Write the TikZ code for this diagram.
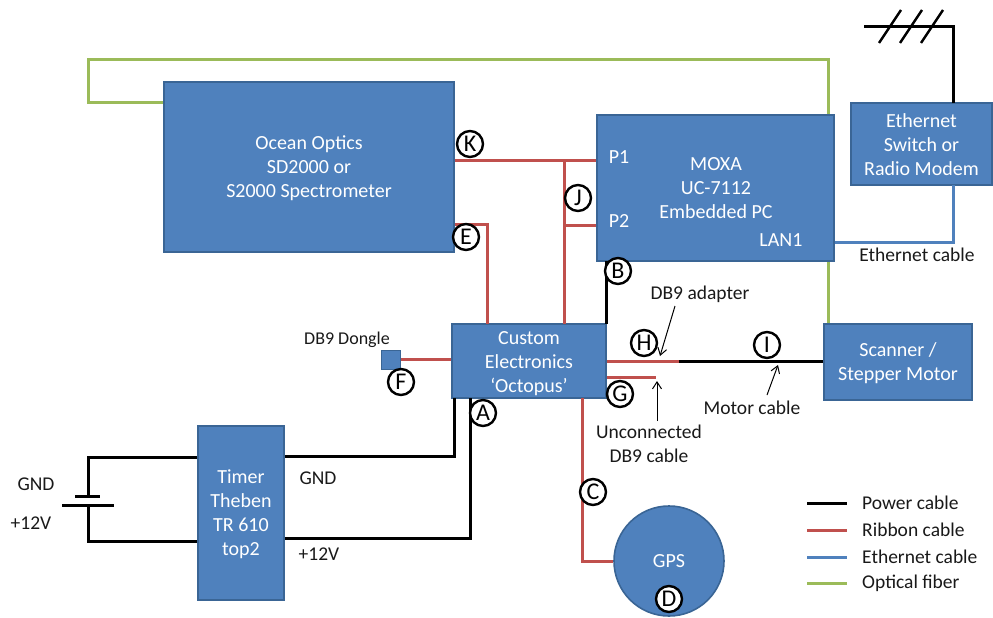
\documentclass[tikz,border=0pt]{standalone}
\usepackage{fontspec}
\setmainfont{Carlito}
\usetikzlibrary{arrows.meta,calc}
\definecolor{boxblue}{HTML}{4F81BD}
\definecolor{boxedge}{HTML}{3A6595}
\definecolor{ribbon}{HTML}{C0504D}
\definecolor{ethcable}{HTML}{4F81BD}
\definecolor{fiber}{HTML}{9BBB59}
\tikzset{
  blockbox/.style={draw=boxedge,line width=1.6pt,fill=boxblue,text=white,align=center,font=\fontsize{20}{24}\selectfont,inner sep=0pt},
  boxtext/.style={text=white,align=center,font=\fontsize{20}{24}\selectfont,inner sep=0pt},
  marker/.style={circle,draw=black,line width=2.4pt,fill=white,minimum size=26pt,inner sep=0pt,font=\fontsize{24}{24}\selectfont},
  lbl/.style={font=\fontsize{19.5}{24}\selectfont,align=center,inner sep=0pt,text=black!90},
  powercable/.style={black,line width=3pt},
  ribboncable/.style={ribbon,line width=3pt},
  ethernetcable/.style={ethcable,line width=3pt},
  fibercable/.style={fiber,line width=3pt},
  pointer/.style={-{Straight Barb[length=7pt,width=9pt]},black,line width=1pt},
}
\begin{document}
\begin{tikzpicture}[x=1pt,y=-1pt]
\useasboundingbox (0,0) rectangle (993,618);
% free end points
\coordinate (fa) at (88,60); \coordinate (fb) at (828,60); \coordinate (fc) at (88,102);
\coordinate (hl) at (864,27); \coordinate (hc) at (953,27);
\coordinate (batTop) at (88,457); \coordinate (batBot) at (88,541);
\coordinate (batN) at (88,496); \coordinate (batP) at (88,505);
\coordinate (jtop) at (564,160); \coordinate (jmid) at (564,225);
\coordinate (adapter) at (679,361);
\coordinate (unconn) at (656,377);
\coordinate (tipH) at (660,356); \coordinate (tailH) at (675,306);
\coordinate (tipG) at (657,381); \coordinate (tailG) at (657,421);
\coordinate (tipI) at (778,365); \coordinate (tailI) at (767,395);
% fibre and other cables under boxes
\draw[fibercable] (164,102) -- (fc) -- (fa) -- (fb) -- (828,324);
\node[blockbox,minimum width=290pt,minimum height=170pt] (ocean) at (309,167) {};
\node[boxtext] (oceant) at (309,168) {Ocean Optics\\SD2000 or\\S2000 Spectrometer};
\node[blockbox,minimum width=237pt,minimum height=146pt] (moxa) at (715.5,188) {};
\node[boxtext] (moxat) at (716,188) {MOXA\\UC-7112\\Embedded PC};
\node[blockbox,minimum width=141pt,minimum height=82pt] (eth) at (921.5,144) {};
\node[boxtext] (etht) at (921.5,145) {Ethernet\\Switch or\\Radio Modem};
\node[blockbox,minimum width=148pt,minimum height=76pt] (scan) at (898,362) {};
\node[boxtext] (scant) at (898,363) {Scanner /\\Stepper Motor};
\node[blockbox,minimum width=154pt,minimum height=74pt] (octo) at (529,361) {};
\node[boxtext] (octot) at (529,364) {Custom\\Electronics\\‘Octopus’};
\node[blockbox,minimum width=86pt,minimum height=174pt] (timer) at (241,513) {};
\node[boxtext] (timert) at (241,514) {Timer\\Theben\\TR 610\\top2};
\node[circle,draw=boxedge,line width=1.6pt,fill=boxblue,text=white,minimum size=110pt,inner sep=0pt,font=\fontsize{20}{24}\selectfont] (gps) at (669,561) {GPS};
\node[draw=boxedge,line width=1pt,fill=boxblue,minimum size=19pt,inner sep=0pt] (dongle) at (390.5,359.5) {};
\node[boxtext] (p1) at (619,157) {P1};
\node[boxtext] (p2) at (619,221) {P2};
\node[boxtext] (lan) at (781,240) {LAN1};
% ethernet
\draw[ethernetcable] (moxa.east |- 0,242) -- (953,242) -- (953,185);
% power
\draw[powercable] (953,103) -- (hc) -- (hl);
\foreach \px in {0,1,2}{
  \draw[black,line width=2.4pt] ($(879,43)+(\px*21,0)$) -- ($(901,10)+(\px*21,0)$);
}
\draw[powercable] (606,261) -- (606,324);
\draw[powercable] (adapter) -- (scan.west |- adapter);
\draw[powercable] (timer.west |- batTop) -- (batTop) -- (batN);
\draw[powercable] (timer.west |- batBot) -- (batBot) -- (batP);
\coordinate (b1l) at (75,496); \coordinate (b1r) at (100,496);
\coordinate (b2l) at (62,505); \coordinate (b2r) at (114,505);
\draw[powercable] (b1l) -- (b1r);
\draw[powercable] (b2l) -- (b2r);
\draw[powercable] (timer.east |- 0,456) -- (454,456) -- (454,398);
\draw[powercable] (timer.east |- 0,538) -- (470,538) -- (470,398);
% ribbon
\draw[ribboncable] (ocean.east |- jtop) -- (moxa.west |- jtop);
\draw[ribboncable] (jtop) -- (564,324);
\draw[ribboncable] (jmid) -- (moxa.west |- jmid);
\draw[ribboncable] (ocean.east |- 0,224) -- (487,224) -- (487,324);
\draw[ribboncable] (dongle.east) -- (octo.west |- dongle.east);
\draw[ribboncable] (octo.east |- adapter) -- (adapter);
\draw[ribboncable] (octo.east |- unconn) -- (unconn);
\draw[ribboncable] (582,398) -- (582,561) -- (gps.west);
% pointers
\draw[pointer] (tailH) -- (tipH);
\draw[pointer] (tailG) -- (tipG);
\draw[pointer] (tailI) -- (tipI);
% markers
\node[marker] (mK) at (470,144) {K};
\node[marker] (mJ) at (578,198) {J};
\node[marker] (mE) at (466,237) {E};
\node[marker] (mB) at (618,271) {B};
\node[marker] (mH) at (644,343) {H};
\node[marker] (mI) at (767,345) {I};
\node[marker] (mG) at (620,394) {G};
\node[marker] (mF) at (401,382) {F};
\node[marker] (mA) at (483,413) {A};
\node[marker] (mC) at (593,492) {C};
\node[marker] (mD) at (669,599) {D};
% labels
\node[lbl] (lEth) at (917,255) {Ethernet cable};
\node[lbl] (lDB) at (700,294) {DB9 adapter};
\node[lbl,font=\fontsize{18}{24}\selectfont] (lDong) at (347,340) {DB9 Dongle};
\node[lbl] (lMot) at (752,408) {Motor cable};
\node[lbl] (lUn) at (649,444) {Unconnected\\DB9 cable};
\node[lbl] (lGa) at (318,478) {GND};
\node[lbl] (lVa) at (319,554) {+12V};
\node[lbl] (lGb) at (36,484) {GND};
\node[lbl] (lVb) at (31,523) {+12V};
% legend
\coordinate (k1a) at (807,503); \coordinate (k1b) at (847,503);
\coordinate (k2a) at (807,530); \coordinate (k2b) at (847,530);
\coordinate (k3a) at (807,557); \coordinate (k3b) at (847,557);
\coordinate (k4a) at (807,583); \coordinate (k4b) at (847,583);
\draw[powercable] (k1a) -- (k1b);
\draw[ribboncable] (k2a) -- (k2b);
\draw[ethernetcable] (k3a) -- (k3b);
\draw[fibercable] (k4a) -- (k4b);
\node[lbl,anchor=west] (t1) at (862,503) {Power cable};
\node[lbl,anchor=west] (t2) at (862,530) {Ribbon cable};
\node[lbl,anchor=west] (t3) at (862,557) {Ethernet cable};
\node[lbl,anchor=west] (t4) at (862,583) {Optical fiber};
\end{tikzpicture}
\end{document}
